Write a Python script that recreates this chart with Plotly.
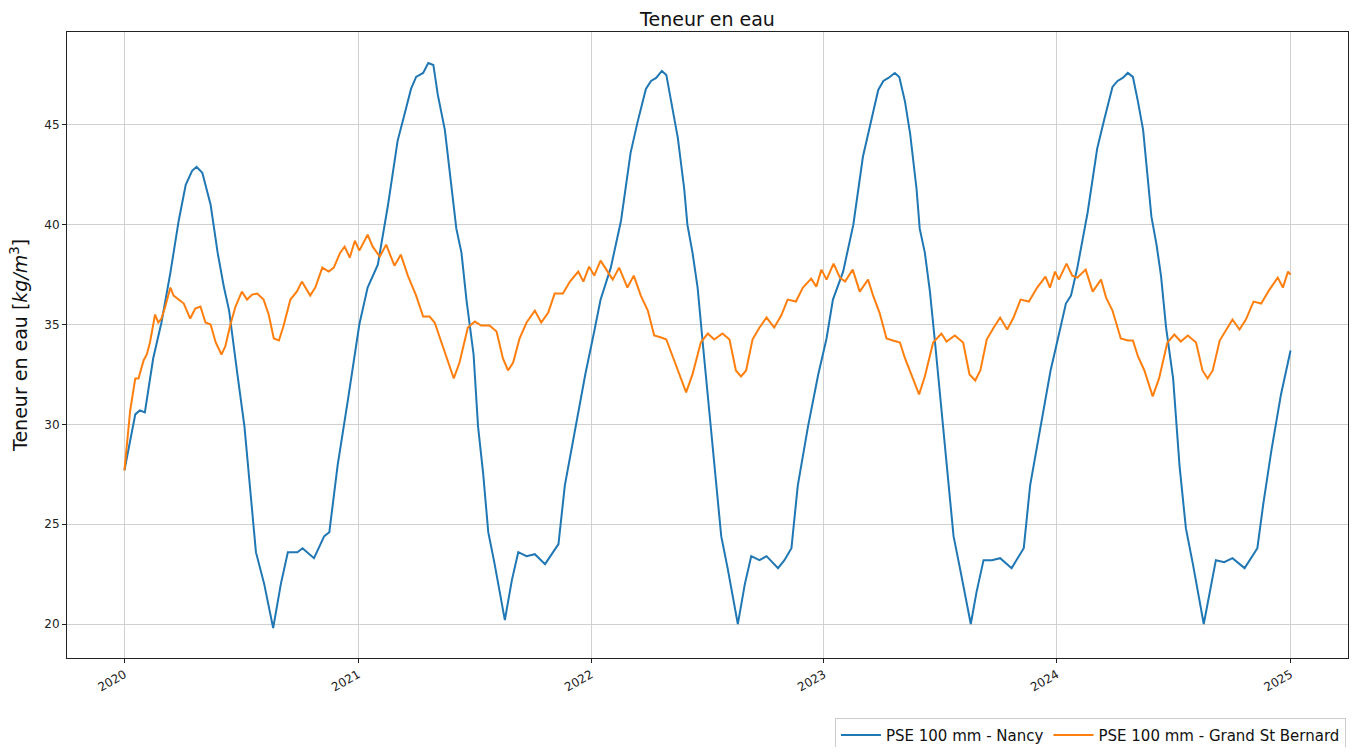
import plotly.graph_objects as go

# ---- Data ----
nancy_dates = [
    "2020-01-01", "2020-01-18", "2020-01-25", "2020-02-02", "2020-02-15", "2020-02-28", "2020-03-13",
    "2020-03-26", "2020-04-06", "2020-04-16", "2020-04-23", "2020-05-02", "2020-05-15", "2020-05-26",
    "2020-06-05", "2020-06-13", "2020-06-26", "2020-07-07", "2020-07-17", "2020-07-25", "2020-08-07",
    "2020-08-21", "2020-09-02", "2020-09-13", "2020-09-28", "2020-10-06", "2020-10-24", "2020-11-09",
    "2020-11-17", "2020-11-30", "2020-12-16", "2020-12-27",
    "2021-01-03", "2021-01-16", "2021-02-01", "2021-02-17", "2021-03-04", "2021-03-15", "2021-03-25",
    "2021-04-02", "2021-04-13", "2021-04-21", "2021-04-29", "2021-05-06", "2021-05-17", "2021-05-27",
    "2021-06-04", "2021-06-12", "2021-06-20", "2021-07-01", "2021-07-08", "2021-07-16", "2021-07-24",
    "2021-08-03", "2021-08-19", "2021-08-30", "2021-09-09", "2021-09-22", "2021-10-05", "2021-10-21",
    "2021-11-03", "2021-11-11", "2021-11-21", "2021-12-07", "2021-12-23",
    "2022-01-06", "2022-01-16", "2022-02-01", "2022-02-17", "2022-03-04", "2022-03-15", "2022-03-28",
    "2022-04-05", "2022-04-13", "2022-04-22", "2022-04-29", "2022-05-06", "2022-05-17", "2022-05-27",
    "2022-06-01", "2022-06-09", "2022-06-17", "2022-06-25", "2022-07-06", "2022-07-13", "2022-07-24",
    "2022-08-03", "2022-08-19", "2022-08-30", "2022-09-09", "2022-09-22", "2022-10-03", "2022-10-21",
    "2022-10-31", "2022-11-11", "2022-11-21", "2022-12-07", "2022-12-23",
    "2023-01-05", "2023-01-15", "2023-01-31", "2023-02-16", "2023-03-03", "2023-03-14", "2023-03-27",
    "2023-04-04", "2023-04-12", "2023-04-22", "2023-04-29", "2023-05-08", "2023-05-16", "2023-05-26",
    "2023-05-31", "2023-06-08", "2023-06-16", "2023-06-24", "2023-07-04", "2023-07-12", "2023-07-23",
    "2023-08-02", "2023-08-19", "2023-08-28", "2023-09-08", "2023-09-21", "2023-10-04", "2023-10-22",
    "2023-11-02", "2023-11-10", "2023-11-20", "2023-12-06", "2023-12-22",
    "2024-01-04", "2024-01-15", "2024-01-23", "2024-02-02", "2024-02-18", "2024-03-04", "2024-03-15",
    "2024-03-28", "2024-04-05", "2024-04-13", "2024-04-21", "2024-04-29", "2024-05-07", "2024-05-15",
    "2024-05-28", "2024-06-05", "2024-06-12", "2024-06-20", "2024-07-01", "2024-07-11", "2024-07-21",
    "2024-08-01", "2024-08-18", "2024-08-27", "2024-09-06", "2024-09-19", "2024-10-02", "2024-10-21",
    "2024-10-31", "2024-11-10", "2024-11-19", "2024-12-02", "2024-12-17", "2025-01-01",
]
nancy_values = [
    27.7, 30.5, 30.7, 30.6, 33.3, 35.1, 37.6,
    40.2, 42.0, 42.7, 42.9, 42.6, 41.0, 38.6,
    36.85, 35.7, 32.5, 29.9, 26.4, 23.6, 22.0,
    19.8, 22.0, 23.6, 23.6, 23.8, 23.3, 24.4,
    24.6, 27.95, 31.2, 33.6,
    35.0, 36.85, 38.0, 41.0, 44.2, 45.55, 46.8,
    47.4, 47.6, 48.1, 48.0, 46.5, 44.75, 42.0,
    39.8, 38.6, 36.2, 33.5, 29.9, 27.55, 24.6,
    23.0, 20.2, 22.2, 23.6, 23.4, 23.5, 23.0,
    23.6, 24.0, 26.95, 29.7, 32.5,
    34.65, 36.25, 37.85, 40.2, 43.6, 45.15, 46.8,
    47.2, 47.35, 47.7, 47.5, 46.3, 44.35, 41.8,
    40.0, 38.6, 36.85, 34.1, 30.3, 27.95, 24.4,
    22.8, 20.0, 22.0, 23.4, 23.2, 23.4, 22.8,
    23.2, 23.8, 26.95, 29.9, 32.5,
    34.3, 36.25, 37.65, 40.0, 43.4, 45.0, 46.75,
    47.2, 47.35, 47.6, 47.4, 46.15, 44.55, 41.8,
    39.8, 38.6, 36.65, 34.1, 30.7, 27.95, 24.4,
    22.8, 20.0, 21.6, 23.2, 23.2, 23.3, 22.8,
    23.4, 23.8, 26.95, 29.9, 32.7,
    34.5, 36.05, 36.45, 37.85, 40.6, 43.8, 45.25,
    46.9, 47.2, 47.35, 47.6, 47.4, 46.15, 44.75,
    40.4, 39.0, 37.45, 34.85, 32.3, 27.95, 24.8,
    23.0, 20.0, 21.6, 23.2, 23.1, 23.3, 22.8,
    23.3, 23.8, 25.95, 28.7, 31.5, 33.7,
]

gsb_dates = [
    "2020-01-01", "2020-01-10", "2020-01-18", "2020-01-23", "2020-01-31", "2020-02-05", "2020-02-10",
    "2020-02-18", "2020-02-23", "2020-02-28", "2020-03-05", "2020-03-13", "2020-03-18", "2020-03-26",
    "2020-04-03", "2020-04-13", "2020-04-21", "2020-04-29", "2020-05-07", "2020-05-15", "2020-05-23",
    "2020-06-01", "2020-06-07", "2020-06-15", "2020-06-23", "2020-07-03", "2020-07-11", "2020-07-19",
    "2020-07-27", "2020-08-06", "2020-08-14", "2020-08-22", "2020-08-30", "2020-09-06", "2020-09-17",
    "2020-09-27", "2020-10-05", "2020-10-18", "2020-10-26", "2020-11-06", "2020-11-16", "2020-11-24",
    "2020-12-04", "2020-12-11", "2020-12-19", "2020-12-27",
    "2021-01-03", "2021-01-16", "2021-01-24", "2021-02-04", "2021-02-14", "2021-02-27", "2021-03-09",
    "2021-03-20", "2021-04-02", "2021-04-13", "2021-04-23", "2021-05-01", "2021-05-12", "2021-05-22",
    "2021-05-31", "2021-06-09", "2021-06-22", "2021-07-03", "2021-07-13", "2021-07-26", "2021-08-06",
    "2021-08-16", "2021-08-24", "2021-09-01", "2021-09-11", "2021-09-22", "2021-10-05", "2021-10-15",
    "2021-10-26", "2021-11-05", "2021-11-18", "2021-11-29", "2021-12-12", "2021-12-20", "2021-12-29",
    "2022-01-06", "2022-01-16", "2022-01-27", "2022-02-04", "2022-02-14", "2022-02-27", "2022-03-09",
    "2022-03-20", "2022-03-31", "2022-04-10", "2022-04-21", "2022-04-29", "2022-05-09", "2022-05-19",
    "2022-05-30", "2022-06-09", "2022-06-22", "2022-07-03", "2022-07-13", "2022-07-26", "2022-08-06",
    "2022-08-16", "2022-08-24", "2022-09-01", "2022-09-11", "2022-09-22", "2022-10-03", "2022-10-15",
    "2022-10-26", "2022-11-05", "2022-11-18", "2022-11-29", "2022-12-12", "2022-12-20", "2022-12-28",
    "2023-01-05", "2023-01-16", "2023-01-26", "2023-02-03", "2023-02-15", "2023-02-26", "2023-03-11",
    "2023-03-19", "2023-03-29", "2023-04-09", "2023-04-19", "2023-04-30", "2023-05-08", "2023-05-18",
    "2023-05-30", "2023-06-08", "2023-06-21", "2023-07-04", "2023-07-12", "2023-07-25", "2023-08-07",
    "2023-08-17", "2023-08-26", "2023-09-03", "2023-09-13", "2023-09-24", "2023-10-04", "2023-10-15",
    "2023-10-25", "2023-11-05", "2023-11-18", "2023-12-01", "2023-12-14", "2023-12-21", "2023-12-29",
    "2024-01-04", "2024-01-16", "2024-01-25", "2024-02-02", "2024-02-15", "2024-02-26", "2024-03-10",
    "2024-03-18", "2024-03-28", "2024-04-10", "2024-04-21", "2024-04-29", "2024-05-07", "2024-05-17",
    "2024-05-30", "2024-06-09", "2024-06-22", "2024-07-03", "2024-07-13", "2024-07-24", "2024-08-06",
    "2024-08-16", "2024-08-24", "2024-09-01", "2024-09-12", "2024-09-22", "2024-10-02", "2024-10-13",
    "2024-10-23", "2024-11-04", "2024-11-16", "2024-11-29", "2024-12-12", "2024-12-20", "2024-12-28",
    "2025-01-01",
]
gsb_values = [
    27.7, 30.7, 32.3, 32.3, 33.2, 33.5, 34.1,
    35.5, 35.1, 35.3, 35.9, 36.85, 36.45, 36.25,
    36.05, 35.3, 35.8, 35.9, 35.1, 35.0, 34.1,
    33.5, 33.9, 35.0, 35.9, 36.65, 36.25, 36.5,
    36.55, 36.25, 35.5, 34.3, 34.2, 34.9, 36.25,
    36.65, 37.15, 36.45, 36.85, 37.85, 37.65, 37.85,
    38.6, 38.9, 38.35, 39.2,
    38.7, 39.5, 38.9, 38.4, 39.0, 37.95, 38.5,
    37.45, 36.45, 35.4, 35.4, 35.1, 34.1, 33.1,
    32.3, 33.1, 34.85, 35.15, 34.95, 34.95, 34.65,
    33.3, 32.7, 33.1, 34.3, 35.1, 35.7, 35.1,
    35.6, 36.55, 36.55, 37.15, 37.65, 37.15, 37.9,
    37.45, 38.2, 37.65, 37.25, 37.85, 36.85, 37.45,
    36.45, 35.7, 34.45, 34.35, 34.25, 33.4, 32.5,
    31.6, 32.5, 34.1, 34.55, 34.25, 34.55, 34.25,
    32.7, 32.4, 32.7, 34.25, 34.85, 35.35, 34.85,
    35.45, 36.25, 36.15, 36.85, 37.3, 36.9, 37.75,
    37.25, 38.05, 37.35, 37.15, 37.75, 36.65, 37.25,
    36.45, 35.6, 34.3, 34.2, 34.1, 33.3, 32.5,
    31.5, 32.4, 34.1, 34.55, 34.15, 34.45, 34.1,
    32.5, 32.2, 32.7, 34.25, 34.85, 35.35, 34.75,
    35.35, 36.25, 36.15, 36.85, 37.4, 36.85, 37.65,
    37.25, 38.05, 37.45, 37.35, 37.75, 36.65, 37.25,
    36.35, 35.7, 34.3, 34.2, 34.2, 33.4, 32.7,
    31.4, 32.3, 34.1, 34.5, 34.15, 34.45, 34.1,
    32.7, 32.3, 32.7, 34.2, 34.75, 35.25, 34.75,
    35.25, 36.15, 36.05, 36.75, 37.35, 36.85, 37.65,
    37.5,
]

series_names = ["PSE 100 mm - Nancy", "PSE 100 mm - Grand St Bernard"]
series_colors = ["#1f77b4", "#ff7f0e"]
year_ticks = ["2020-01-01", "2021-01-01", "2022-01-01", "2023-01-01", "2024-01-01", "2025-01-01"]
year_labels = ["2020", "2021", "2022", "2023", "2024", "2025"]
y_ticks = [20, 25, 30, 35, 40, 45]

FONT = "DejaVu Sans, sans-serif"

# The page body keeps an 8px margin; the figure is sized to fit inside the window.
fig = go.Figure()
fig.add_trace(go.Scatter(x=nancy_dates, y=nancy_values, mode="lines", name=series_names[0],
                         line=dict(color=series_colors[0], width=2)))
fig.add_trace(go.Scatter(x=gsb_dates, y=gsb_values, mode="lines", name=series_names[1],
                         line=dict(color=series_colors[1], width=2)))

fig.update_layout(
    width=1341, height=739,
    margin=dict(l=59, r=1, t=24, b=89, autoexpand=False),
    paper_bgcolor="white", plot_bgcolor="white",
    font=dict(family=FONT, color="#222", size=12),
    title=dict(text="Teneur en eau", xref="paper", x=0.5, xanchor="center",
               yref="container", y=0.994, yanchor="top", pad=dict(t=0, b=0),
               automargin=False, font=dict(family=FONT, size=19, color="#111")),
    showlegend=True,
    legend=dict(orientation="h", x=0.9984, xanchor="right", y=-0.0955, yanchor="top",
                bordercolor="#cccccc", borderwidth=1, bgcolor="white",
                font=dict(family=FONT, size=15, color="#111"),
                itemwidth=40, tracegroupgap=0),
    annotations=[dict(
        text="Teneur en eau [<i>kg/m</i><sup>3</sup>]",
        xref="paper", yref="paper", x=-0.0375, y=0.5,
        xanchor="center", yanchor="middle", textangle=-90, showarrow=False,
        font=dict(family=FONT, size=19, color="#111"),
    )],
)
fig.update_xaxes(
    automargin=False,
    range=["2019-10-03", "2025-04-01"],
    tickmode="array", tickvals=year_ticks, ticktext=year_labels,
    tickangle=-30, ticks="outside", ticklen=4, tickcolor="#222",
    tickfont=dict(family=FONT, size=12, color="#222"),
    showgrid=True, gridcolor="#d0d0d0", gridwidth=1,
    showline=True, linecolor="#222", linewidth=1, mirror=True, zeroline=False,
)
fig.update_yaxes(
    automargin=False,
    range=[18.3, 49.65],
    tickmode="array", tickvals=y_ticks, ticktext=[str(v) for v in y_ticks],
    ticks="outside", ticklen=4, tickcolor="#222",
    tickfont=dict(family=FONT, size=12, color="#222"),
    showgrid=True, gridcolor="#d0d0d0", gridwidth=1,
    showline=True, linecolor="#222", linewidth=1, mirror=True, zeroline=False,
)

fig.write_html("out.html")
